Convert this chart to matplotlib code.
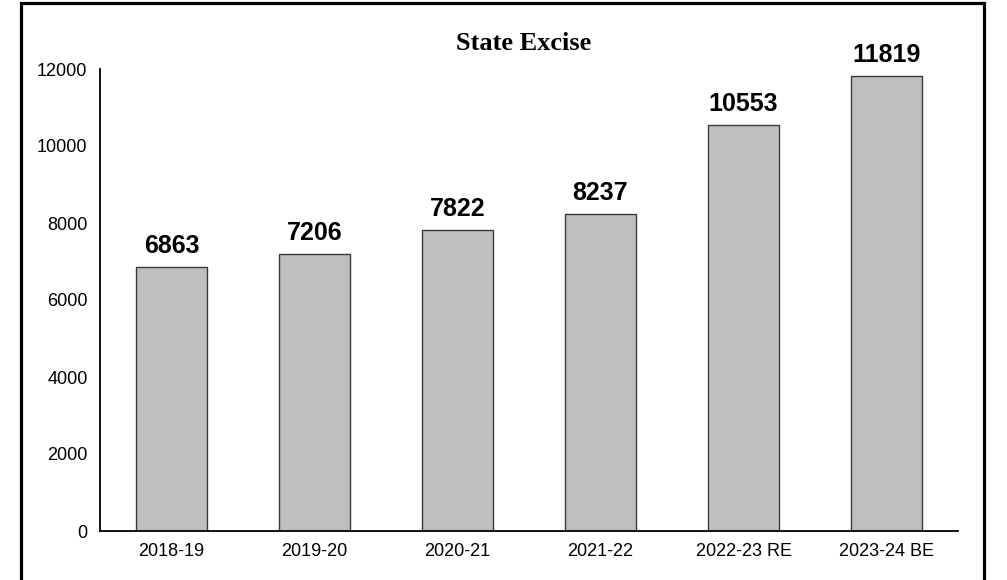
import matplotlib.pyplot as plt
from matplotlib.patches import Rectangle

years = ['2018-19', '2019-20', '2020-21', '2021-22', '2022-23 RE', '2023-24 BE']
excise = [6863, 7206, 7822, 8237, 10553, 11819]

fig = plt.figure(figsize=(10.07, 5.8), dpi=100)
ax = fig.add_axes([100/1007, 1 - 531/580, 858/1007, 462/580])

x = range(len(years))
ax.bar(x, excise, width=0.5, color='#bfbfbf', edgecolor='#3a3a3a', linewidth=1.0)
for i, v in zip(x, excise):
    ax.text(i, v + 230, str(v), ha='center', va='bottom', fontsize=18,
            fontweight='bold', family='Liberation Sans')

ax.set_xlim(-0.5, len(years) - 0.5)
ax.set_ylim(0, 12000)
ax.set_yticks(range(0, 12001, 2000))
ax.set_xticks(list(x))
ax.set_xticklabels(years)
for lbl in ax.get_xticklabels() + ax.get_yticklabels():
    lbl.set_family('Liberation Sans')
    lbl.set_fontsize(13)
ax.tick_params(axis='x', length=0, pad=9)
ax.tick_params(axis='y', length=0, pad=9)
ax.spines['top'].set_visible(False)
ax.spines['right'].set_visible(False)
ax.spines['left'].set_linewidth(1.3)
ax.spines['bottom'].set_linewidth(1.3)

fig.text(524/1007, 1 - 43/580, 'State Excise', ha='center', va='center',
         fontsize=19, fontweight='bold', family='Liberation Serif')

# outer frame (bottom edge runs past the image)
fig.patches.append(Rectangle((21/1007, -0.05), 963/1007, 1.05 - 2.5/580,
                             transform=fig.transFigure, fill=False,
                             edgecolor='black', linewidth=2.3))

fig.savefig('out.png', dpi=100)
